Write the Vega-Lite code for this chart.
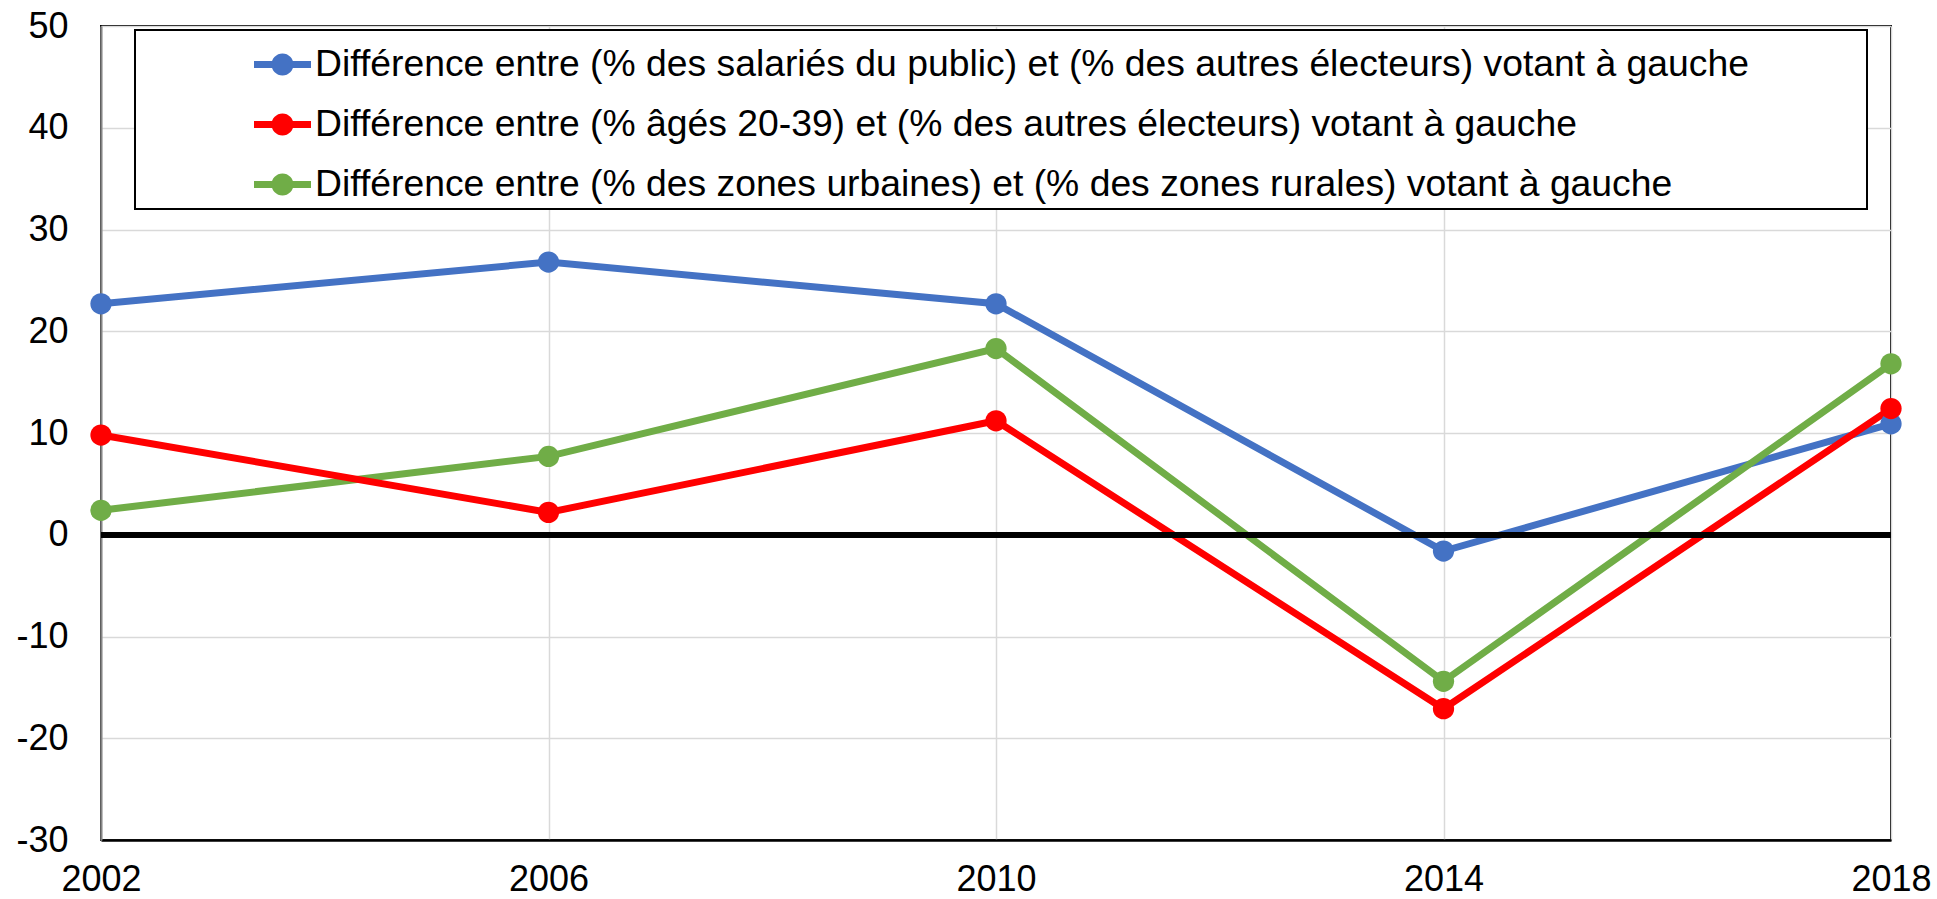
{
  "$schema": "https://vega.github.io/schema/vega-lite/v6.json",
  "autosize": "none",
  "width": 1790,
  "height": 814,
  "padding": {"left": 101, "top": 26, "right": 46, "bottom": 59},
  "background": "white",
  "config": {
    "font": "Liberation Sans",
    "view": {"stroke": "black", "strokeWidth": 2},
    "axis": {"gridColor": "#d9d9d9", "gridWidth": 1.5, "labelFont": "Liberation Sans", "labelFontSize": 36, "labelColor": "black", "ticks": false, "tickSize": 0, "title": null}
  },
  "data": {
    "values": [
      {"year": 2002, "series": "Différence entre (% des salariés du public) et (% des autres électeurs) votant à gauche", "value": 22.7},
      {"year": 2006, "series": "Différence entre (% des salariés du public) et (% des autres électeurs) votant à gauche", "value": 26.8},
      {"year": 2010, "series": "Différence entre (% des salariés du public) et (% des autres électeurs) votant à gauche", "value": 22.7},
      {"year": 2014, "series": "Différence entre (% des salariés du public) et (% des autres électeurs) votant à gauche", "value": -1.6},
      {"year": 2018, "series": "Différence entre (% des salariés du public) et (% des autres électeurs) votant à gauche", "value": 10.9},
      {"year": 2002, "series": "Différence entre (% des zones urbaines) et (% des zones rurales) votant à gauche", "value": 2.4},
      {"year": 2006, "series": "Différence entre (% des zones urbaines) et (% des zones rurales) votant à gauche", "value": 7.7},
      {"year": 2010, "series": "Différence entre (% des zones urbaines) et (% des zones rurales) votant à gauche", "value": 18.3},
      {"year": 2014, "series": "Différence entre (% des zones urbaines) et (% des zones rurales) votant à gauche", "value": -14.4},
      {"year": 2018, "series": "Différence entre (% des zones urbaines) et (% des zones rurales) votant à gauche", "value": 16.8},
      {"year": 2002, "series": "Différence entre (% âgés 20-39) et (% des autres électeurs) votant à gauche", "value": 9.8},
      {"year": 2006, "series": "Différence entre (% âgés 20-39) et (% des autres électeurs) votant à gauche", "value": 2.2},
      {"year": 2010, "series": "Différence entre (% âgés 20-39) et (% des autres électeurs) votant à gauche", "value": 11.2},
      {"year": 2014, "series": "Différence entre (% âgés 20-39) et (% des autres électeurs) votant à gauche", "value": -17.1},
      {"year": 2018, "series": "Différence entre (% âgés 20-39) et (% des autres électeurs) votant à gauche", "value": 12.4}
    ]
  },
  "layer": [
    {
      "mark": {"type": "line", "strokeWidth": 7},
      "encoding": {
        "x": {
          "field": "year", "type": "quantitative",
          "scale": {"domain": [2002, 2018], "nice": false, "zero": false},
          "axis": {"values": [2002, 2006, 2010, 2014, 2018], "format": "d", "labelPadding": 22, "domainColor": "black", "domainWidth": 2.5, "labelFlush": false, "labelOverlap": false}
        },
        "y": {
          "field": "value", "type": "quantitative",
          "scale": {"domain": [-30, 50], "nice": false, "zero": false},
          "axis": {"values": [-30, -20, -10, 0, 10, 20, 30, 40, 50], "labelExpr": "'' + datum.value", "labelPadding": 33, "domainColor": "#868686", "domainWidth": 2, "labelFlush": false, "labelOverlap": false}
        },
        "color": {
          "field": "series", "type": "nominal",
          "scale": {
            "domain": [
              "Différence entre (% des salariés du public) et (% des autres électeurs) votant à gauche",
              "Différence entre (% âgés 20-39) et (% des autres électeurs) votant à gauche",
              "Différence entre (% des zones urbaines) et (% des zones rurales) votant à gauche"
            ],
            "range": ["#4472C4", "#FF0000", "#70AD47"]
          },
          "legend": {
            "orient": "none",
            "legendX": 34,
            "legendY": 4,
            "title": " ",
            "titleOrient": "right",
            "titlePadding": 112,
            "titleFontSize": 10,
            "padding": 6,
            "strokeColor": "black",
            "fillColor": "white",
            "symbolType": "M-1,-0.123L1,-0.123L1,0.123L-1,0.123Z M0.386,0A0.386,0.386,0,1,1,-0.386,0A0.386,0.386,0,1,1,0.386,0Z",
            "symbolSize": 3249,
            "symbolStrokeWidth": 0,
            "symbolOffset": 113,
            "labelOffset": 4,
            "labelFont": "Liberation Sans",
            "labelFontSize": 37.3,
            "labelColor": "black",
            "labelLimit": 3000,
            "rowPadding": 13,
            "encode": {
              "legend": {"update": {"strokeWidth": {"value": 2}}},
              "symbols": {"update": {"fill": {"signal": "scale('color', datum.value)"}, "opacity": {"value": 1}}}
            }
          }
        }
      }
    },
    {
      "mark": {"type": "rule", "color": "black", "strokeWidth": 5},
      "encoding": {"y": {"datum": 0, "type": "quantitative"}}
    },
    {
      "mark": {"type": "point", "shape": "circle", "filled": true, "size": 452, "opacity": 1},
      "encoding": {
        "x": {"field": "year", "type": "quantitative"},
        "y": {"field": "value", "type": "quantitative"},
        "color": {"field": "series", "type": "nominal"}
      }
    }
  ]
}
